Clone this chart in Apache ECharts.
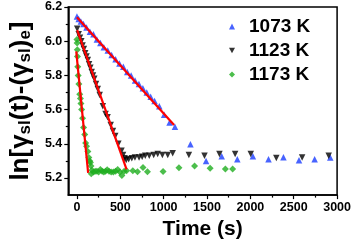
<!DOCTYPE html>
<html>
<head>
<meta charset="utf-8">
<script src="https://cdn.jsdelivr.net/npm/echarts@6/dist/echarts.min.js"></script>
<style>
html,body{margin:0;padding:0;background:#fff;}
#chart{width:354px;height:245px;}
</style>
</head>
<body>
<div id="chart"></div>
<script>
// ---- data ----
var seriesNames = ['1073 K', '1123 K', '1173 K'];
var xTickValues = [0, 500, 1000, 1500, 2000, 2500, 3000];
var xMinorTickValues = [250, 750, 1250, 1750, 2250, 2750];
var yTickValues = [5.2, 5.4, 5.6, 5.8, 6.0, 6.2];
var yMinorTickValues = [5.3, 5.5, 5.7, 5.9, 6.1];

var data1073 = [
  [0, 6.145], [20, 6.13], [45, 6.115], [75, 6.10], [110, 6.08], [150, 6.055],
  [190, 6.04], [230, 6.01], [270, 5.99], [310, 5.965], [355, 5.945], [400, 5.92],
  [445, 5.895], [490, 5.87], [535, 5.85], [580, 5.82], [625, 5.80], [670, 5.77],
  [715, 5.75], [760, 5.725], [805, 5.70], [850, 5.675], [895, 5.65], [950, 5.62],
  [1005, 5.57], [1068, 5.525], [1130, 5.50],
  [1309, 5.397], [1489, 5.30], [1669, 5.327], [1849, 5.31], [2029, 5.327],
  [2209, 5.31], [2381, 5.322], [2561, 5.304], [2741, 5.31], [2921, 5.32]
];
var data1123 = [
  [3, 6.073], [20, 6.04], [35, 6.02], [50, 6.0], [65, 5.975], [80, 5.955],
  [95, 5.93], [110, 5.91], [125, 5.89], [140, 5.865], [155, 5.845], [170, 5.82],
  [185, 5.80], [200, 5.78], [220, 5.75], [240, 5.72], [262, 5.685], [298, 5.62],
  [330, 5.575], [353, 5.555], [389, 5.51], [415, 5.475], [442, 5.445], [478, 5.40],
  [514, 5.36], [532, 5.335], [550, 5.315], [568, 5.305], [597, 5.31], [633, 5.315],
  [669, 5.32], [716, 5.32], [752, 5.325], [788, 5.33], [834, 5.33], [885, 5.335],
  [931, 5.34], [985, 5.335], [1047, 5.335], [1104, 5.345], [1291, 5.335],
  [1471, 5.33], [1643, 5.34], [1824, 5.34], [2004, 5.34], [2299, 5.317],
  [2597, 5.32], [2903, 5.33]
];
var data1173 = [
  [0, 6.01], [2, 5.99], [4, 5.95], [6, 5.91], [9, 5.85], [14, 5.80], [22, 5.75],
  [32, 5.69], [40, 5.665], [46, 5.635], [54, 5.60], [65, 5.55], [76, 5.495],
  [90, 5.455], [100, 5.405], [111, 5.385], [126, 5.355], [137, 5.32], [148, 5.30],
  [155, 5.29], [162, 5.27], [165, 5.225], [172, 5.245], [191, 5.235], [210, 5.24],
  [230, 5.24], [250, 5.235], [270, 5.25], [290, 5.24], [310, 5.235], [330, 5.24],
  [349, 5.248], [370, 5.24], [395, 5.235], [420, 5.235], [445, 5.24], [470, 5.25],
  [495, 5.235], [518, 5.215], [545, 5.24], [572, 5.243], [644, 5.243], [698, 5.237],
  [762, 5.261], [813, 5.237], [993, 5.238], [1176, 5.26], [1356, 5.27], [1536, 5.257],
  [1712, 5.252], [1795, 5.252]
];
var fit1073 = [[0, 6.14], [1120, 5.51]];
var fit1123 = [[3, 6.065], [572, 5.25]];
var fit1173 = [[-8, 5.94], [129, 5.23]];

// ---- chart ----
var FONT = 'Liberation Sans, Arial, sans-serif';
var DOWN_TRIANGLE = 'path://M0,0 L10,0 L5,9 Z';
var chart = echarts.init(document.getElementById('chart'), null, {renderer: 'canvas'});

function fitSeries(d) {
  return {
    type: 'line', data: d, symbol: 'none', silent: true,
    lineStyle: {color: '#ff0000', width: 2.2}, z: 5
  };
}
function plain(v) { return String(Math.round(v)); }

var option = {
  animation: false,
  backgroundColor: '#fff',
  grid: {left: 53, right: 15, top: 7, bottom: 40, show: true,
         borderColor: '#000', borderWidth: 1.5, backgroundColor: 'transparent'},
  legend: {
    data: seriesNames, orient: 'vertical', left: 229, top: 17,
    itemWidth: 6, itemHeight: 6, itemGap: 5, padding: 0,
    textStyle: {fontFamily: FONT, fontWeight: 'bold', fontSize: 19, color: '#000',
                padding: [0, 0, 0, 9]}
  },
  xAxis: [{
    type: 'value', min: -100, max: 3000,
    name: 'Time (s)', nameLocation: 'middle', nameGap: 15,
    nameTextStyle: {fontFamily: FONT, fontWeight: 'bold', fontSize: 21, color: '#000'},
    axisLine: {show: true, onZero: false, lineStyle: {color: '#000', width: 1.5}},
    axisTick: {show: true, length: 4, customValues: xTickValues, lineStyle: {color: '#000', width: 1.2}},
    axisLabel: {customValues: xTickValues, margin: 6, fontFamily: FONT, fontWeight: 'bold', fontSize: 12.5, color: '#000',
      formatter: plain},
    splitLine: {show: false}
  }, {
    type: 'value', min: -100, max: 3000, position: 'bottom',
    axisLine: {show: false, onZero: false},
    axisTick: {show: true, length: 2.5, customValues: xMinorTickValues, lineStyle: {color: '#000', width: 1.2}},
    axisLabel: {show: false}, splitLine: {show: false}
  }],
  yAxis: [{
    type: 'value', min: 5.1, max: 6.2,
    name: 'ln[γ{s|sl}(t)-(γ{s|sl}){s|e}]', nameLocation: 'middle', nameGap: 24, nameRotate: 90,
    nameTextStyle: {fontFamily: FONT, fontWeight: 'bold', fontSize: 26, color: '#000', lineHeight: 26,
      rich: {s: {fontFamily: FONT, fontWeight: 'bold', fontSize: 17, color: '#000', lineHeight: 13, verticalAlign: 'bottom'}}},
    axisLine: {show: true, onZero: false, lineStyle: {color: '#000', width: 1.5}},
    axisTick: {show: true, length: 4, customValues: yTickValues, lineStyle: {color: '#000', width: 1.2}},
    axisLabel: {customValues: yTickValues, margin: 6, fontFamily: FONT, fontWeight: 'bold', fontSize: 12.5, color: '#000',
      formatter: function (v) { return v.toFixed(1); }},
    splitLine: {show: false}
  }, {
    type: 'value', min: 5.1, max: 6.2, position: 'left',
    axisLine: {show: false, onZero: false},
    axisTick: {show: true, length: 2.5, customValues: yMinorTickValues, lineStyle: {color: '#000', width: 1.2}},
    axisLabel: {show: false}, splitLine: {show: false}
  }],
  series: [
    {name: seriesNames[0], type: 'scatter', data: data1073, symbol: 'triangle', symbolSize: 6.5,
     itemStyle: {color: '#1a3cff'}, z: 3},
    {name: seriesNames[1], type: 'scatter', data: data1123, symbol: DOWN_TRIANGLE, symbolSize: 6.5,
     itemStyle: {color: '#000'}, z: 3},
    {name: seriesNames[2], type: 'scatter', data: data1173, symbol: 'diamond', symbolSize: 7,
     itemStyle: {color: '#1fae1f'}, z: 3},
    fitSeries(fit1073), fitSeries(fit1123), fitSeries(fit1173)
  ]
};
chart.setOption(option);
</script>
</body>
</html>
